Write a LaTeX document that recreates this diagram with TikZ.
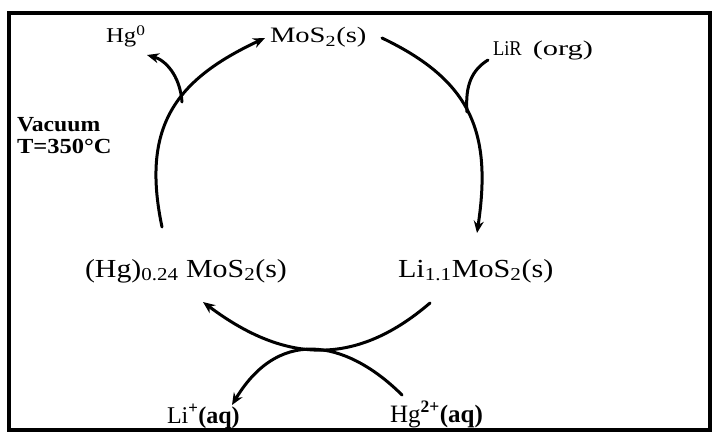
\documentclass[tikz,border=0pt]{standalone}
\usepackage{fontspec}
\setmainfont{Liberation Serif}
\usetikzlibrary{arrows.meta}
\begin{document}
\begin{tikzpicture}[x=1pt,y=-1pt,
  lbl/.style={anchor=base west, inner sep=0pt, outer sep=0pt},
  arc/.style={line width=3pt, line cap=round},
  tip/.style={-{Stealth[length=12pt,width=10pt]}},
  frame/.style={line width=3.2pt}]
\useasboundingbox (0,0) rectangle (713,433);
\draw[frame] (9,13) rectangle (710,430);

% labels
\node[lbl, font=\fontsize{21}{24}\selectfont] (hg0) at (106,43) {\scalebox{1.18}[1]{Hg\textsuperscript{0}}};
\node[lbl, font=\fontsize{22}{26}\selectfont] (mos) at (270,43) {\scalebox{1.3}[1]{MoS\textsubscript{2}(s)}};
\node[lbl, font=\fontsize{21}{24}\selectfont] (lir) at (493,56) {\scalebox{0.88}[1]{LiR}\hspace{11pt}\scalebox{1.45}[1]{(org)}};
\node[lbl, font=\bfseries\fontsize{21.5}{24}\selectfont] (vac) at (17,132) {\scalebox{1.1}[1]{Vacuum}};
\node[lbl, font=\bfseries\fontsize{21.5}{24}\selectfont] (temp) at (17,154) {\scalebox{1.14}[1]{T=350°C}};
\node[lbl, font=\fontsize{26}{30}\selectfont] (hgmos) at (85,277) {\scalebox{1.15}[1]{(Hg)\textsubscript{0.24} MoS\textsubscript{2}(s)}};
\node[lbl, font=\fontsize{26}{30}\selectfont] (limos) at (398,277) {\scalebox{1.16}[1]{Li\textsubscript{1.1}MoS\textsubscript{2}(s)}};
\node[lbl, font=\fontsize{24}{28}\selectfont] (liaq) at (167,423) {Li\textsuperscript{\bfseries +}\textbf{(aq)}};
\node[lbl, font=\fontsize{25}{28}\selectfont] (hgaq) at (390,422) {Hg\textsuperscript{\bfseries 2+}\textbf{(aq)}};

% connector end points
\coordinate (r0) at (382,38);   \coordinate (r3) at (477,233);
\coordinate (b0) at (430,303);  \coordinate (b3) at (203,302);
\coordinate (l0) at (162,227);  \coordinate (l3) at (265,38);
\coordinate (h0) at (182,102);  \coordinate (h3) at (147,55);
\coordinate (q0) at (488,60);   \coordinate (q3) at (467,112);
\coordinate (x0) at (402,395);  \coordinate (x3) at (232,405);

% cycle arcs
\draw[arc,tip] (r0) .. controls (472,81) and (492,133) .. (r3);
\draw[arc,tip] (b0) .. controls (352,370) and (281,360.5) .. (b3);
\draw[arc,tip] (l0) .. controls (141,127) and (175,80) .. (l3);
% branches
\draw[arc,tip] (h0) .. controls (180,75) and (165,60) .. (h3);
\draw[arc] (q0) .. controls (472,70) and (465,85) .. (q3);
\draw[arc,tip] (x0) .. controls (352,345) and (282,322) .. (x3);
\end{tikzpicture}
\end{document}
